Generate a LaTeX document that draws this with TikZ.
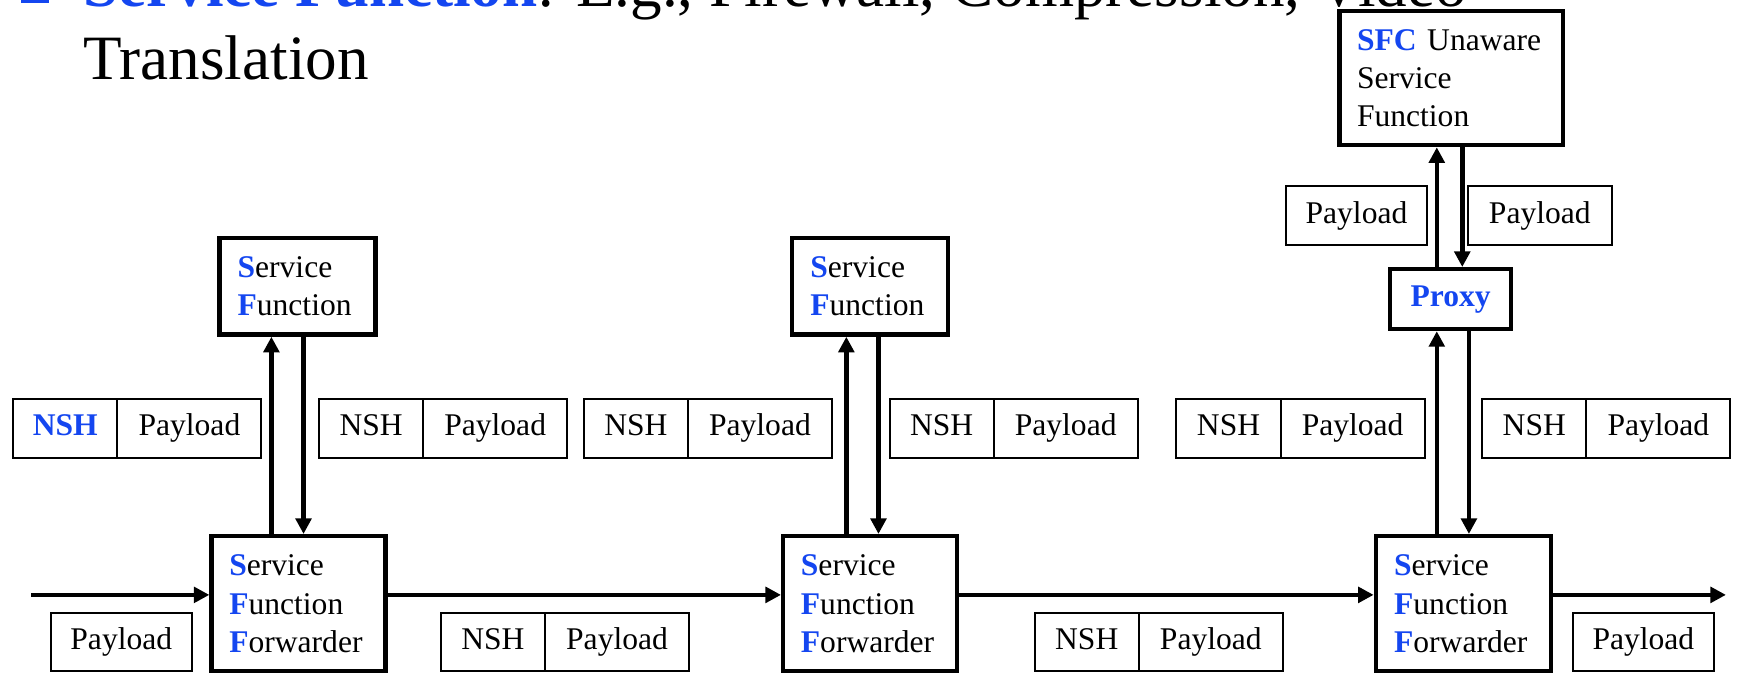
\documentclass[tikz,border=0pt]{standalone}
\usepackage{fontspec}
\setmainfont{Liberation Serif}
\usetikzlibrary{arrows.meta}
\definecolor{sfcblue}{RGB}{20,70,240}
\newcommand{\bb}[1]{\textcolor{sfcblue}{\textbf{#1}}}
\begin{document}
\begin{tikzpicture}[x=1pt,y=-1pt,
  every node/.style={font=\fontsize{28.5}{34.5}\selectfont},
  thickbox/.style={draw, line width=4pt, inner sep=0pt, align=left, anchor=north west, fill=white},
  pkt/.style={draw, line width=1.8pt, inner sep=0pt, outer sep=0pt, minimum height=53pt, text height=20pt, text depth=6pt, anchor=north west, fill=white},
  nshbox/.style={pkt, minimum width=94pt},
  paybox/.style={pkt, minimum width=130pt},
  onepay/.style={pkt, minimum width=127pt},
  arr/.style={line width=4pt, -{Triangle[length=14pt,width=14pt]}},
  titlefont/.style={anchor=base west, inner sep=0pt, font=\fontsize{57}{68}\selectfont},
]
\useasboundingbox (0,0) rectangle (1568,607.5);
\clip (0,0) rectangle (1568,607.5);

% title (cut off at top)
\node[fill=sfcblue, minimum size=25pt, inner sep=0pt, anchor=south west] (bullet) at (19,3) {};
\node[titlefont] (title1) at (75,6) {\textcolor{sfcblue}{\textbf{Service Function}}: E.g., Firewall, Compression, Video};
\node[titlefont] (title2) at (75,72) {Translation};

% service function forwarders
\node[thickbox, minimum width=157pt, minimum height=122pt, text width=125pt] (sff1) at (189,482) {\bb{S}ervice\\\bb{F}unction\\\bb{F}orwarder};
\node[thickbox, minimum width=157pt, minimum height=122pt, text width=125pt] (sff2) at (705,482) {\bb{S}ervice\\\bb{F}unction\\\bb{F}orwarder};
\node[thickbox, minimum width=158pt, minimum height=122pt, text width=125pt] (sff3) at (1240,482) {\bb{S}ervice\\\bb{F}unction\\\bb{F}orwarder};

% service functions
\node[thickbox, minimum width=141pt, minimum height=87pt, text width=108pt] (sf1) at (196,213) {\bb{S}ervice\\\bb{F}unction};
\node[thickbox, minimum width=141pt, minimum height=87pt, text width=108pt] (sf2) at (713,213) {\bb{S}ervice\\\bb{F}unction};

% SFC unaware SF and proxy
\node[thickbox, minimum width=202pt, minimum height=121pt, text width=170pt] (sfc) at (1207,8) {\bb{SFC} Unaware\\Service\\Function};
\node[thickbox, align=center, minimum width=109pt, minimum height=54pt] (proxy) at (1253,241) {\bb{Proxy}};

% packets, middle row
\node[nshbox] (nA) at (12,360) {\bb{NSH}};
\node[paybox] (pA) at (nA.north east) {Payload};
\node[nshbox] (nB) at (288,360) {NSH};
\node[paybox] (pB) at (nB.north east) {Payload};
\node[nshbox] (nC) at (527,360) {NSH};
\node[paybox] (pC) at (nC.north east) {Payload};
\node[nshbox] (nD) at (803,360) {NSH};
\node[paybox] (pD) at (nD.north east) {Payload};
\node[nshbox] (nE) at (1062,360) {NSH};
\node[paybox] (pE) at (nE.north east) {Payload};
\node[nshbox] (nF) at (1338,360) {NSH};
\node[paybox] (pF) at (nF.north east) {Payload};

% packets near SFC unaware SF
\node[onepay] (pG) at (1161,168) {Payload};
\node[paybox] (pH) at (1325,168) {Payload};

% packets, bottom row
\node[onepay] (p0) at (46,553) {Payload};
\node[nshbox] (n1) at (398,553) {NSH};
\node[paybox] (p1) at (n1.north east) {Payload};
\node[nshbox] (n2) at (934,553) {NSH};
\node[paybox] (p2) at (n2.north east) {Payload};
\node[onepay] (p3) at (1420,553) {Payload};

% connector positions
\coordinate (m) at (0,537);
\coordinate (start) at (28,537);
\coordinate (end) at (1558,537);
\coordinate (u1) at (245,0); \coordinate (d1) at (274,0);
\coordinate (u2) at (764,0); \coordinate (d2) at (793,0);
\coordinate (u3) at (1297,0); \coordinate (d3) at (1326,0);
\coordinate (d4) at (1320,0);

% main chain
\draw[arr] (start) -- (m -| sff1.west);
\draw[arr] (m -| sff1.east) -- (m -| sff2.west);
\draw[arr] (m -| sff2.east) -- (m -| sff3.west);
\draw[arr] (m -| sff3.east) -- (end);

% SFF <-> SF
\draw[arr] (u1 |- sff1.north) -- (u1 |- sf1.south);
\draw[arr] (d1 |- sf1.south) -- (d1 |- sff1.north);
\draw[arr] (u2 |- sff2.north) -- (u2 |- sf2.south);
\draw[arr] (d2 |- sf2.south) -- (d2 |- sff2.north);
\draw[arr] (u3 |- sff3.north) -- (u3 |- proxy.south);
\draw[arr] (d3 |- proxy.south) -- (d3 |- sff3.north);
\draw[arr] (u3 |- proxy.north) -- (u3 |- sfc.south);
\draw[arr] (d4 |- sfc.south) -- (d4 |- proxy.north);
\end{tikzpicture}
\end{document}
